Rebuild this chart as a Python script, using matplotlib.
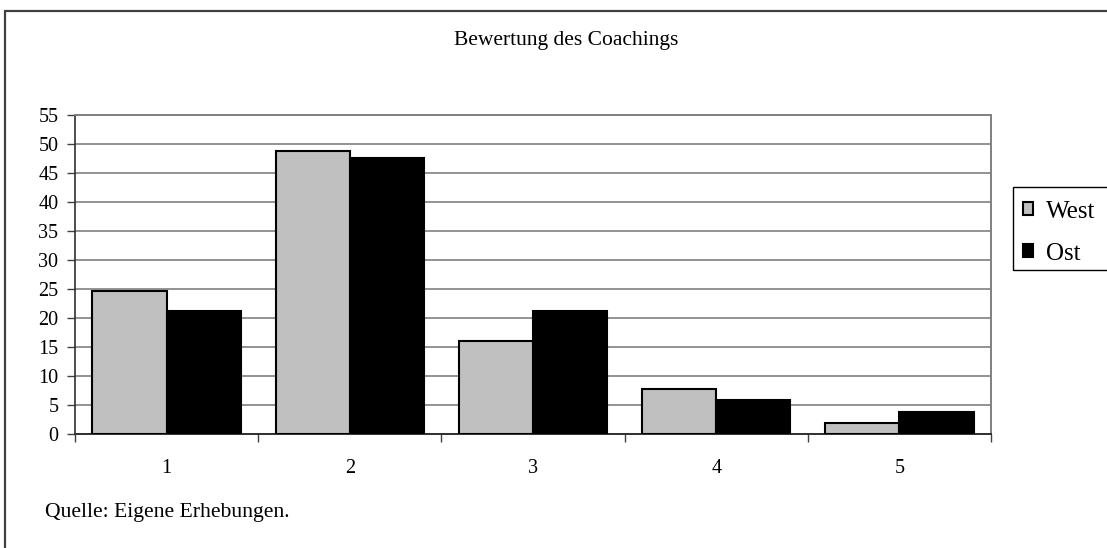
import matplotlib
matplotlib.use("Agg")
import matplotlib.pyplot as plt
import numpy as np
from matplotlib.patches import Rectangle, Patch

# Ratings 1 (best) to 5 (worst), share of answers in percent
categories = ["1", "2", "3", "4", "5"]
west = [24.7, 48.7, 16.1, 7.8, 2.0]
ost = [21.3, 47.5, 21.3, 5.9, 3.8]
series_names = ["West", "Ost"]
y_ticks = list(range(0, 56, 5))

plt.rcParams["font.family"] = ["Liberation Serif", "DejaVu Serif"]

W, H = 1107, 548
fig = plt.figure(figsize=(W / 100, H / 100), dpi=100)

# outer chart frame (runs off the right and bottom edge)
fig.patches.append(Rectangle((5 / W, -0.05), 1.1, 1 - 11 / H + 0.05,
                             transform=fig.transFigure, fill=False,
                             edgecolor="#404040", linewidth=1.6))

ax_left, ax_right, ax_top, ax_bottom = 75, 991, 114.7, 434.3
ax = fig.add_axes([ax_left / W, 1 - ax_bottom / H,
                   (ax_right - ax_left) / W, (ax_bottom - ax_top) / H])

x = np.arange(len(categories))
bw = 0.405
ax.bar(x - bw / 2, west, width=bw, color="#c0c0c0", edgecolor="black",
       linewidth=1.5, zorder=3)
ax.bar(x + bw / 2, ost, width=bw, color="black", edgecolor="black",
       linewidth=1.5, zorder=3)

ax.set_xlim(-0.5, len(categories) - 0.5)
ax.set_ylim(0, 55)
ax.set_yticks(y_ticks)
ax.yaxis.grid(True, color="#808080", linewidth=1.2, zorder=0)
ax.set_axisbelow(True)

# category labels centred, tick marks on the category boundaries
ax.set_xticks(x)
ax.set_xticklabels(categories, fontsize=14.5)
ax.set_xticks(np.arange(-0.5, len(categories)), minor=True)
ax.tick_params(axis="x", which="major", length=0, pad=18)
ax.tick_params(axis="x", which="minor", length=6, width=1, color="#404040",
               direction="out")
ax.tick_params(axis="y", length=6, width=1, color="#404040", labelsize=14.5,
               pad=6)

for s in ["top", "right"]:
    ax.spines[s].set_color("#808080")
    ax.spines[s].set_linewidth(1.4)
ax.spines["left"].set_color("#303030")
ax.spines["left"].set_linewidth(1.2)
ax.spines["bottom"].set_color("#303030")
ax.spines["bottom"].set_linewidth(1.4)

fig.text(566 / W, 1 - 40.7 / H, "Bewertung des Coachings", ha="center",
         va="center", fontsize=15.5)
fig.text(45 / W, 1 - 513 / H, "Quelle: Eigene Erhebungen.", ha="left",
         va="center", fontsize=15.6)

# legend box, open to the right edge of the chart area
fig.patches.append(Rectangle((1013 / W, 1 - 270 / H), 0.2, 83 / H,
                             transform=fig.transFigure, fill=False,
                             edgecolor="black", linewidth=1.0))
handles = [Patch(facecolor="#c0c0c0", edgecolor="black", linewidth=1.5),
           Patch(facecolor="black", edgecolor="black", linewidth=1.5)]
leg = fig.legend(handles, series_names, loc="upper left",
                 bbox_to_anchor=(1009 / W, 1 - 187 / H), fontsize=18,
                 frameon=False, handlelength=0.42,
                 handleheight=0.42, handletextpad=0.5, labelspacing=0.8,
                 borderpad=0.55, borderaxespad=0)

fig.savefig("out.png", dpi=100)
